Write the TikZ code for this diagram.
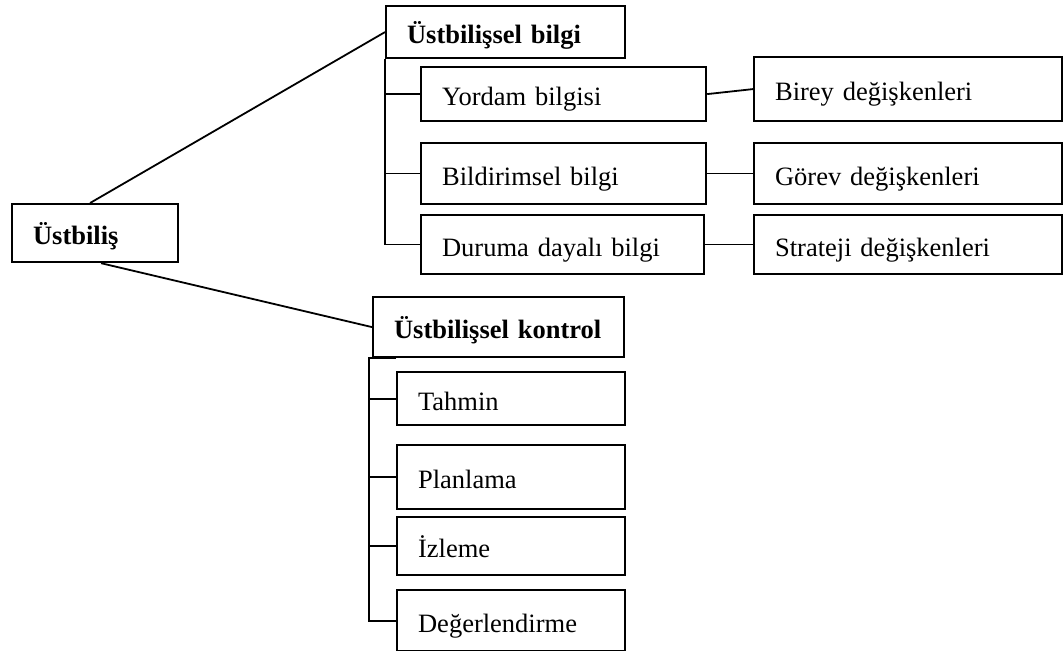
\documentclass[tikz,border=0pt]{standalone}
\usepackage{fontspec}
\setmainfont{Liberation Serif}

\tikzset{kutu/.style={draw, line width=1.1pt, anchor=north west, align=left,
	inner xsep=10.5pt, inner ysep=0pt, text height=12pt, text depth=0.2pt,
	font=\fontsize{13.25}{15}\selectfont},
	ana/.style={kutu, font=\fontsize{13.25}{15}\selectfont\bfseries}}

\begin{document}
\begin{tikzpicture}[x=0.5pt, y=-0.5pt, line width=0.9pt]
	\useasboundingbox (0,0) rectangle (1063,651);
	\node[ana, text width=62pt, minimum height=29pt] (ust) at (11,203) {Üstbiliş};
	\node[ana, text width=98.5pt, minimum height=26pt] (bilgi) at (385,5) {Üstbilişsel bilgi};
	\node[kutu, text width=121.5pt, minimum height=27pt] (yordam) at (420,66) {Yordam bilgisi};
	\node[kutu, text width=121.5pt, minimum height=30.5pt] (bildirim) at (420,142) {Bildirimsel bilgi};
	\node[kutu, text width=120.5pt, minimum height=29.5pt] (durum) at (420,214) {Duruma dayalı bilgi};
	\node[kutu, text width=133pt, minimum height=32pt] (birey) at (753,56) {Birey değişkenleri};
	\node[kutu, text width=133pt, minimum height=30.5pt] (gorev) at (753,142) {Görev değişkenleri};
	\node[kutu, text width=133pt, minimum height=29.5pt] (strateji) at (753,214) {Strateji değişkenleri};
	\node[ana, text width=104.5pt, minimum height=30pt] (kontrol) at (372,296) {Üstbilişsel kontrol};
	\node[kutu, text width=93pt, minimum height=26.5pt] (tahmin) at (396,371) {Tahmin};
	\node[kutu, text width=93pt, minimum height=32pt] (plan) at (396,444) {Planlama};
	\node[kutu, text width=93pt, minimum height=29pt] (izleme) at (396,516) {İzleme};
	\node[kutu, text width=93pt, minimum height=30.5pt] (deger) at (396,589) {Değerlendirme};
	\coordinate (kk) at ([xshift=-1.5pt]kontrol.south west);

	\draw ([xshift=-2.5pt]ust.north) -- (bilgi.west);
	\draw ([xshift=3pt]ust.south) -- (kontrol.west);
	\draw (bilgi.south west) |- (durum.west);
	\draw (bilgi.south west |- yordam.west) -- (yordam.west);
	\draw (bilgi.south west |- bildirim.west) -- (bildirim.west);
	\draw (yordam.east) -- (birey.west);
	\draw (bildirim.east) -- (gorev.west);
	\draw (durum.east) -- (strateji.west);
	\draw (kontrol.south -| tahmin.west) -- (kk) |- (deger.west);
	\draw (kk |- tahmin.west) -- (tahmin.west);
	\draw (kk |- plan.west) -- (plan.west);
	\draw (kk |- izleme.west) -- (izleme.west);
\end{tikzpicture}
\end{document}
